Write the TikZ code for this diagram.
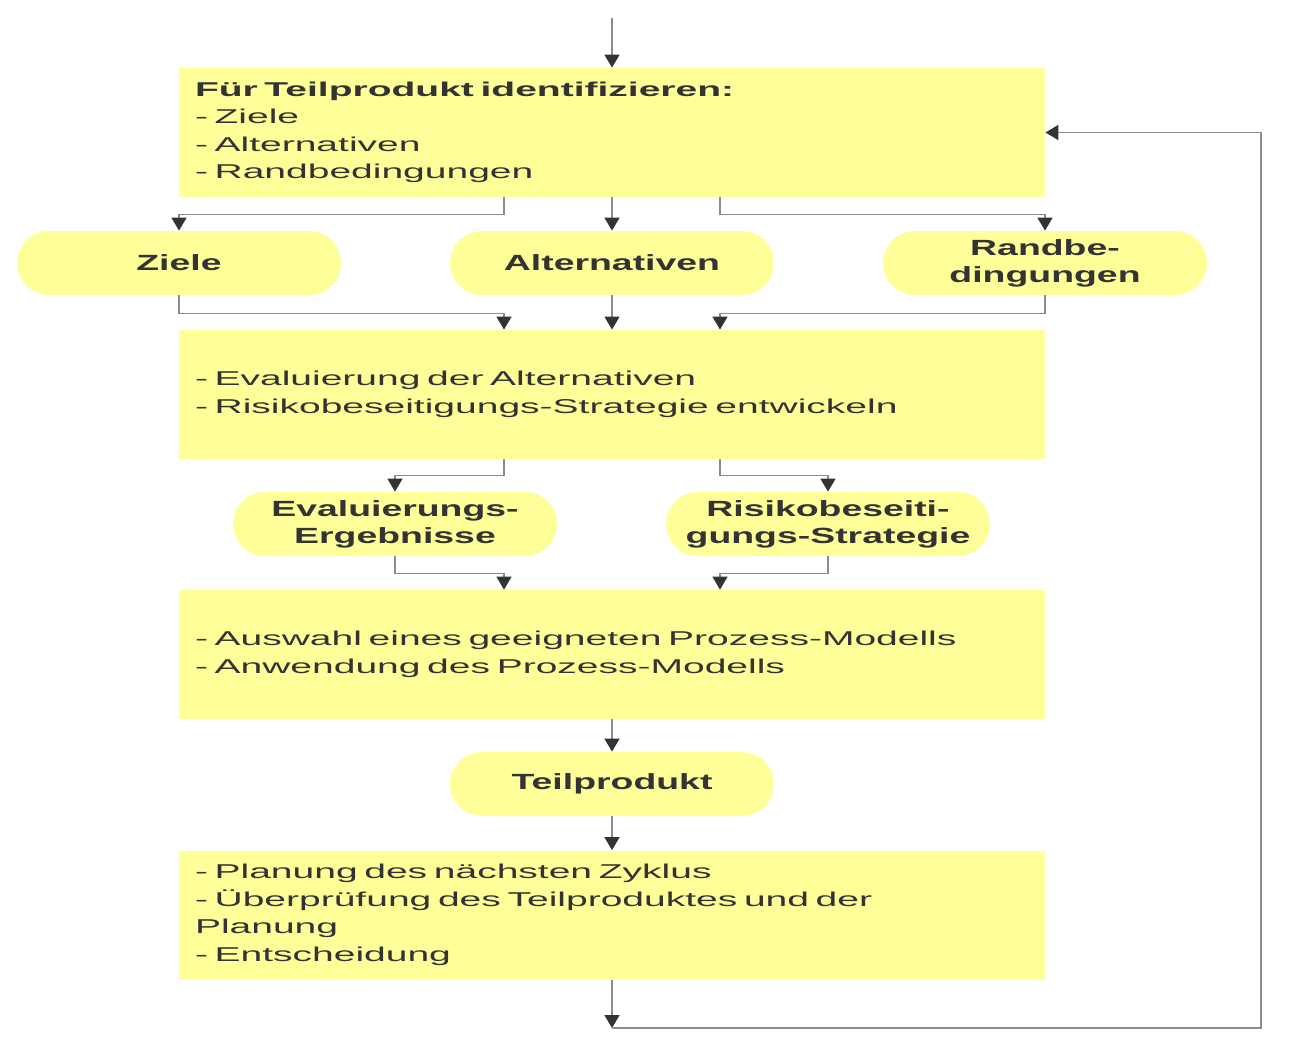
\documentclass[tikz,border=0pt]{standalone}
\usepackage{fontspec}
\setmainfont{Liberation Sans}[FakeStretch=1.95,WordSpace=1.6]
\newfontfamily\pillfont{Liberation Sans}[FakeStretch=1.7]
\usetikzlibrary{arrows.meta}
\definecolor{boxyellow}{HTML}{FFFF99}
\definecolor{textgray}{HTML}{333333}
\definecolor{linegray}{HTML}{8C8C8C}

\begin{document}
\begin{tikzpicture}[x=0.5pt,y=-0.5pt,
  stepbox/.style={rectangle, fill=boxyellow, text=textgray,
    minimum width=433pt, minimum height=64.5pt, text width=417pt,
    inner xsep=8pt, inner ysep=0pt, align=left,
    font=\fontsize{10pt}{13.75pt}\selectfont},
  result/.style={rectangle, rounded corners=16pt, fill=boxyellow, text=textgray,
    minimum width=162pt, minimum height=32pt, inner sep=0pt, align=center,
    font=\pillfont\bfseries\fontsize{11pt}{13.5pt}\selectfont},
  flow/.style={draw=linegray, line width=0.75pt,
    -{Triangle[width=7.5pt,length=6.5pt,color=textgray]}}]

  % Fix the page size
  \useasboundingbox (0,0) rectangle (1302,1054);

  % Draw the process steps
  \node[stepbox] (ident) at (612,132.5) {\textbf{Für Teilprodukt identifizieren:}\\- Ziele\\- Alternativen\\- Randbedingungen};
  \node[stepbox] (eval) at (612,394.5) {- Evaluierung der Alternativen\\- Risikobeseitigungs-Strategie entwickeln};
  \node[stepbox] (model) at (612,654.5) {- Auswahl eines geeigneten Prozess-Modells\\- Anwendung des Prozess-Modells};
  \node[stepbox] (plan) at (612,915) {- Planung des nächsten Zyklus\\- Überprüfung des Teilproduktes und der\\Planung\\- Entscheidung};

  % Draw the results
  \node[result] (ziele) at (179,263) {Ziele};
  \node[result] (alt) at (612,263) {Alternativen};
  \node[result] (rand) at (1045,263) {Randbe-\\dingungen};
  \node[result] (ergeb) at (395,524) {Evaluierungs-\\Ergebnisse};
  \node[result] (risk) at (828,524) {Risikobeseiti-\\gungs-Strategie};
  \node[result] (teil) at (612,784) {Teilprodukt};

  % Draw the entry arrow
  \coordinate (start) at (612,18);
  \draw[flow] (start) -- (ident);

  % Draw the arrows between steps and results
  \draw[flow] ([xshift=-54pt]ident.south) -- ++(0,-8.5pt) -| (ziele.north);
  \draw[flow] (ident.south) -- (alt.north);
  \draw[flow] ([xshift=54pt]ident.south) -- ++(0,-8.5pt) -| (rand.north);

  \draw[flow] (ziele.south) -- ++(0,-9pt) -| ([xshift=-54pt]eval.north);
  \draw[flow] (alt.south) -- (eval.north);
  \draw[flow] (rand.south) -- ++(0,-9pt) -| ([xshift=54pt]eval.north);

  \draw[flow] ([xshift=-54pt]eval.south) -- ++(0,-8pt) -| (ergeb.north);
  \draw[flow] ([xshift=54pt]eval.south) -- ++(0,-8pt) -| (risk.north);

  \draw[flow] (ergeb.south) -- ++(0,-8.5pt) -| ([xshift=-54pt]model.north);
  \draw[flow] (risk.south) -- ++(0,-8.5pt) -| ([xshift=54pt]model.north);

  \draw[flow] (model.south) -- (teil.north);
  \draw[flow] (teil.south) -- (plan.north);

  % Draw the loop back to the first step
  \coordinate (loopstart) at (612,1028);
  \coordinate (loopright) at (1261,1028);
  \draw[flow] (plan.south) -- (loopstart);
  \draw[flow] (loopstart) -- (loopright) |- (ident.east);
\end{tikzpicture}
\end{document}
